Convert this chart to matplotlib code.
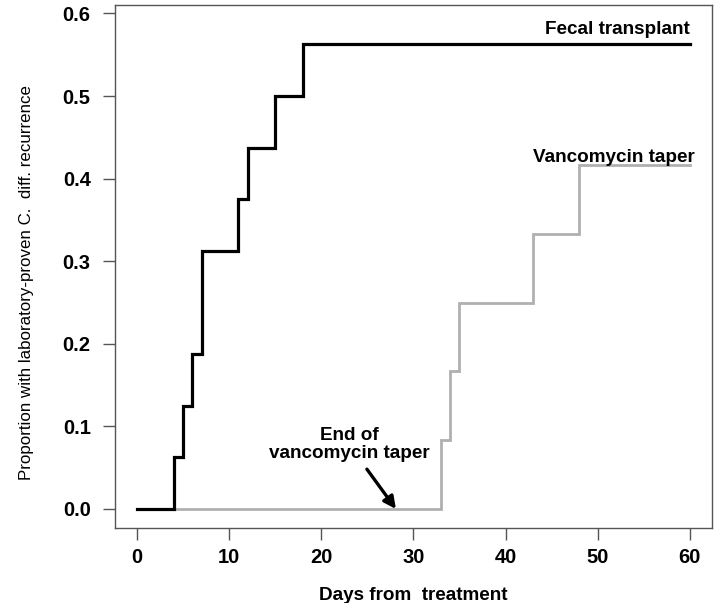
import matplotlib
matplotlib.use("Agg")
import matplotlib.pyplot as plt
from matplotlib import font_manager

# Data
fecal_days = [0, 4, 5, 6, 7, 11, 12, 15, 18, 60]
fecal_prop = [0.0, 0.0625, 0.125, 0.1875, 0.3125, 0.375, 0.4375, 0.5, 0.5625, 0.5625]
vanco_days = [0, 33, 34, 35, 43, 48, 60]
vanco_prop = [0.0, 0.0833, 0.1667, 0.25, 0.3333, 0.4167, 0.4167]
x_ticks = [0, 10, 20, 30, 40, 50, 60]
y_ticks = [0.0, 0.1, 0.2, 0.3, 0.4, 0.5, 0.6]

names = {f.name for f in font_manager.fontManager.ttflist}
narrow = 'Liberation Sans Narrow' if 'Liberation Sans Narrow' in names else 'Liberation Sans'
plt.rcParams['font.family'] = ['Liberation Sans', 'DejaVu Sans']

fig = plt.figure(figsize=(7.19, 6.03), dpi=100)
ax = fig.add_axes([0.16, 0.1244, 0.83, 0.867])

ax.step(vanco_days, vanco_prop, where='post', color='#b0b0b0', lw=2.0, solid_joinstyle='miter')
ax.step(fecal_days, fecal_prop, where='post', color='black', lw=2.3, solid_joinstyle='miter')

ax.set_xlim(-2.4, 62.4)
ax.set_ylim(-0.023, 0.61)
ax.set_xticks(x_ticks)
ax.set_xticklabels([str(t) for t in x_ticks])
ax.set_yticks(y_ticks)
ax.set_yticklabels([f"{t:.1f}" for t in y_ticks])
ax.tick_params(axis='both', direction='out', length=8.5, width=1.0, color='#555555',
               labelsize=14.5)
ax.tick_params(axis='x', pad=6)
ax.tick_params(axis='y', pad=9)
for lab in ax.get_xticklabels() + ax.get_yticklabels():
    lab.set_fontweight('bold')
for s in ax.spines.values():
    s.set_color('#555555')
    s.set_linewidth(1.0)

ax.text(60, 0.58, 'Fecal transplant', ha='right', va='center', fontsize=13.6, fontweight='bold')
ax.text(60.5, 0.426, 'Vancomycin taper', ha='right', va='center', fontsize=13.6, fontweight='bold')
ax.annotate('End of\nvancomycin taper', xy=(28.1, 0.0), xytext=(23, 0.078),
            ha='center', va='center', fontsize=13.6, fontweight='bold', linespacing=1.05,
            arrowprops=dict(arrowstyle='-|>', color='black', lw=2.4, mutation_scale=18,
                            shrinkA=4, shrinkB=0))

ax.set_xlabel('Days from  treatment', fontsize=13.6, fontweight='bold', labelpad=14)
fig.text(0.037, 0.532, 'Proportion with laboratory-proven C.  diff. recurrence',
         rotation=90, ha='center', va='center', fontsize=12.2, family=[narrow, 'DejaVu Sans'])

fig.savefig('out.png', dpi=100)
